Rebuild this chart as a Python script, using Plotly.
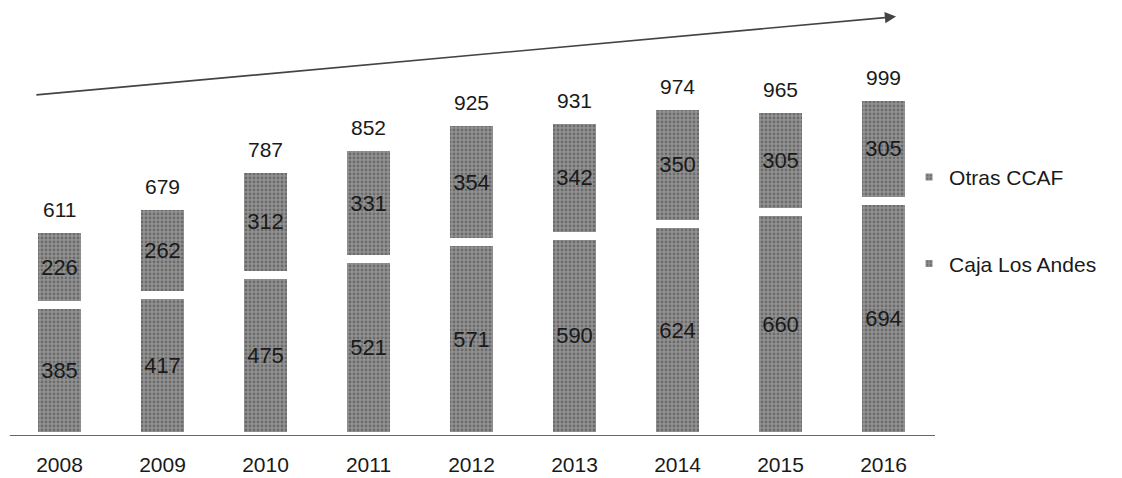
import plotly.graph_objects as go

years = ["2008", "2009", "2010", "2011", "2012", "2013", "2014", "2015", "2016"]
caja_los_andes = [385, 417, 475, 521, 571, 590, 624, 660, 694]
otras_ccaf = [226, 262, 312, 331, 354, 342, 350, 305, 305]
totals = [611, 679, 787, 852, 925, 931, 974, 965, 999]

FONT = "Liberation Sans, Arial, sans-serif"
INK = "#1a1a1a"
fig = go.Figure()

bar_marker = dict(color="#878787", line=dict(color="white", width=8),
                  pattern=dict(shape=".", fgcolor="#444444", bgcolor="#929292", size=4, solidity=0.4))
common = dict(
    textposition="inside",
    insidetextanchor="middle",
    textangle=0,
    insidetextfont=dict(family=FONT, size=22, color=INK),
)

fig.add_trace(go.Bar(
    x=years, y=caja_los_andes, name="Caja Los Andes", legendgroup="caja", legendrank=2,
    text=[str(v) for v in caja_los_andes], marker=bar_marker, **common,
))
fig.add_trace(go.Bar(
    x=years, y=otras_ccaf, name="Otras CCAF", legendgroup="otras", legendrank=1,
    text=[str(v) for v in otras_ccaf], marker=bar_marker, **common,
))

# total labels (category axis: position by category index)
for i, t in enumerate(totals):
    fig.add_annotation(x=i, y=t, xref="x", yref="y", text=str(t), showarrow=False,
                       yanchor="bottom", yshift=6, font=dict(family=FONT, size=21, color=INK))

fig.update_layout(
    width=1122, height=478,
    margin=dict(l=8, r=187, t=0, b=42),
    paper_bgcolor="white", plot_bgcolor="white",
    barmode="stack", bargap=0.5,
    font=dict(family=FONT, size=21, color=INK),
    xaxis=dict(type="category", showgrid=False, showline=False, ticks="outside",
               ticklen=10, tickcolor="rgba(0,0,0,0)", tickfont=dict(size=21, color=INK)),
    yaxis=dict(range=[0, 1285], visible=False),
    legend=dict(x=0.972, y=0.64, xanchor="left", yanchor="top",
                traceorder="grouped", tracegroupgap=56,
                font=dict(size=21, color=INK), bgcolor="rgba(0,0,0,0)"),
    showlegend=True,
)

# baseline
fig.add_shape(type="line", xref="paper", yref="y", x0=0.002, x1=1.0, y0=0, y1=0,
              line=dict(color="#333333", width=1.5))
# trend arrow
fig.add_annotation(xref="x domain", yref="y domain", axref="x domain", ayref="y domain",
                   x=0.958, y=0.962, ax=0.029, ay=0.782, text="", showarrow=True,
                   arrowhead=2, arrowsize=1.4, arrowwidth=1.6, arrowcolor="#444444")

fig.write_html("out.html", config={"displayModeBar": False},
               post_script="document.body.style.margin='0px';")
